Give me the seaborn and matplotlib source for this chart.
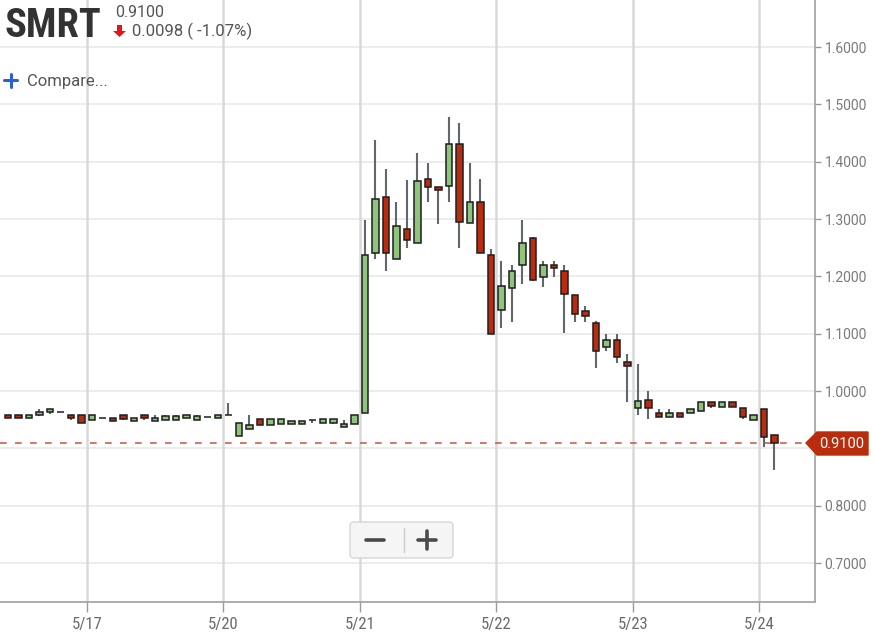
import numpy as np
import pandas as pd
import seaborn as sns
import matplotlib
matplotlib.use("Agg")
import matplotlib.pyplot as plt
from matplotlib.patches import Polygon, FancyBboxPatch
from matplotlib.lines import Line2D
from matplotlib import font_manager

# ---------------- data ----------------
ticker = "SMRT"
last_price = 0.9100
change_text = "0.0098 ( -1.07%)"

day_labels = ["5/16", "5/17", "5/20", "5/21", "5/22", "5/23", "5/24"]
bars_per_day = [8, 13, 13, 13, 13, 12, 2]

opens = [0.959, 0.959, 0.953, 0.958, 0.963, 0.963, 0.959, 0.959, 0.950, 0.953,
         0.953, 0.959, 0.947, 0.959, 0.947, 0.950, 0.950, 0.953, 0.950, 0.955,
         0.953, 0.959, 0.921, 0.934, 0.951, 0.940, 0.942, 0.942, 0.942, 0.949,
         0.944, 0.944, 0.937, 0.942, 0.961, 1.240, 1.338, 1.230, 1.283, 1.259,
         1.369, 1.356, 1.358, 1.430, 1.293, 1.330, 1.238, 1.141, 1.180, 1.219,
         1.267, 1.198, 1.220, 1.210, 1.167, 1.139, 1.118, 1.076, 1.089, 1.050,
         0.971, 0.984, 0.961, 0.955, 0.961, 0.961, 0.966, 0.980, 0.972, 0.980,
         0.971, 0.949, 0.969, 0.924]
highs = [0.959, 0.959, 0.959, 0.969, 0.969, 0.963, 0.959, 0.959, 0.959, 0.953,
         0.953, 0.959, 0.953, 0.959, 0.958, 0.958, 0.958, 0.959, 0.958, 0.955,
         0.959, 0.979, 0.944, 0.958, 0.951, 0.951, 0.951, 0.948, 0.948, 0.949,
         0.951, 0.951, 0.949, 0.959, 1.298, 1.437, 1.387, 1.329, 1.368, 1.416,
         1.398, 1.356, 1.478, 1.468, 1.398, 1.369, 1.248, 1.227, 1.219, 1.298,
         1.269, 1.227, 1.227, 1.219, 1.167, 1.148, 1.122, 1.099, 1.099, 1.065,
         1.047, 1.000, 0.968, 0.968, 0.961, 0.969, 0.980, 0.980, 0.980, 0.980,
         0.971, 0.958, 0.969, 0.924]
lows = [0.953, 0.953, 0.953, 0.957, 0.960, 0.963, 0.950, 0.944, 0.950, 0.953,
        0.947, 0.950, 0.947, 0.950, 0.947, 0.950, 0.950, 0.953, 0.950, 0.955,
        0.953, 0.959, 0.921, 0.934, 0.940, 0.940, 0.942, 0.942, 0.942, 0.945,
        0.944, 0.943, 0.937, 0.942, 0.961, 1.230, 1.210, 1.230, 1.249, 1.259,
        1.330, 1.291, 1.330, 1.249, 1.293, 1.240, 1.099, 1.110, 1.121, 1.187,
        1.192, 1.181, 1.199, 1.101, 1.121, 1.121, 1.040, 1.070, 1.049, 0.981,
        0.958, 0.951, 0.955, 0.955, 0.955, 0.961, 0.966, 0.971, 0.972, 0.972,
        0.951, 0.949, 0.902, 0.862]
closes = [0.953, 0.953, 0.959, 0.964, 0.969, 0.963, 0.953, 0.944, 0.959, 0.953,
          0.947, 0.952, 0.953, 0.953, 0.953, 0.956, 0.956, 0.959, 0.956, 0.955,
          0.959, 0.959, 0.944, 0.940, 0.940, 0.951, 0.951, 0.948, 0.948, 0.949,
          0.951, 0.951, 0.943, 0.959, 1.238, 1.335, 1.240, 1.288, 1.263, 1.367,
          1.355, 1.350, 1.430, 1.295, 1.330, 1.240, 1.099, 1.183, 1.210, 1.259,
          1.193, 1.220, 1.214, 1.169, 1.134, 1.130, 1.070, 1.089, 1.060, 1.044,
          0.983, 0.970, 0.955, 0.961, 0.955, 0.969, 0.980, 0.974, 0.980, 0.972,
          0.955, 0.958, 0.920, 0.910]

y_ticks = [0.7, 0.8, 0.9, 1.0, 1.1, 1.2, 1.3, 1.4, 1.5, 1.6]
y_tick_labels = ["0.7000", "0.8000", "", "1.0000", "1.1000", "1.2000",
                 "1.3000", "1.4000", "1.5000", "1.6000"]

# ---------------- frame ----------------
df = pd.DataFrame({"open": opens, "high": highs, "low": lows, "close": closes})
df["idx"] = np.arange(len(df))
df["day"] = np.repeat(day_labels, bars_per_day)
df["up"] = df["close"] >= df["open"]
df["bottom"] = df[["open", "close"]].min(axis=1)
df["height"] = (df["close"] - df["open"]).abs()

starts = np.cumsum([0] + bars_per_day[:-1])
tick_pos = [s - 0.5 for s in starts[1:]]
tick_lab = day_labels[1:]

# ---------------- style ----------------
sns.set_theme(style="white")
plt.rcParams["font.family"] = ["Roboto", "DejaVu Sans"]

available = {f.name for f in font_manager.fontManager.ttflist}
narrow = [f for f in ["Liberation Sans Narrow", "Roboto Condensed",
                      "DejaVu Sans Condensed"] if f in available]
narrow_family = narrow[:1] + ["Roboto"]

W, H = 873, 638
fig = plt.figure(figsize=(W / 100, H / 100), dpi=100)
ax = fig.add_axes([0, 36 / H, 815 / W, 602 / H])

GREEN = "#8fc47c"
RED = "#b92d0e"
EDGE = "#1e1e1e"
WICK = "#62676c"

# grid
for yv in y_ticks:
    ax.axhline(yv, color="#ebebeb", lw=1.3, zorder=0)
for xv in tick_pos:
    ax.axvline(xv, color="#d9d9d9", lw=1.8, zorder=0)

# wicks
ax.vlines(df["idx"], df["low"], df["high"], color=WICK, lw=1.5, zorder=2)
# bodies
ax.bar(df["idx"], df["height"], bottom=df["bottom"], width=0.62,
       color=np.where(df["up"], GREEN, RED), edgecolor=EDGE, linewidth=1.1,
       zorder=3)

# last price line
ax.axhline(last_price, xmax=806 / 815, color="#cf5f49", lw=1.2,
           ls=(0, (4, 5)), zorder=1)

ax.set_xlim(-0.762, 76.86)
ax.set_ylim(0.632, 1.682)

ax.yaxis.tick_right()
ax.set_yticks(y_ticks)
ax.set_yticklabels(y_tick_labels)
ax.set_xticks(tick_pos)
ax.set_xticklabels(tick_lab)
ax.tick_params(axis="y", right=True, length=4, width=1, color="#9a9a9a",
               labelsize=10, labelcolor="#7a7a7a", pad=3)
ax.tick_params(axis="x", bottom=True, length=7, width=1, color="#9a9a9a",
               labelsize=12, labelcolor="#6a6a6a", pad=4)
for lab in ax.get_xticklabels():
    lab.set_family(narrow_family)

for s in ["top", "left"]:
    ax.spines[s].set_visible(False)
for s in ["right", "bottom"]:
    ax.spines[s].set_color("#a0a0a0")
    ax.spines[s].set_linewidth(1.2)
ax.set_xlabel("")
ax.set_ylabel("")


def px(x, y):
    return (x / W, 1 - y / H)


# price tag on axis
tag = Polygon([px(806, 443), px(817, 432), px(868, 432), px(868, 455), px(817, 455)],
              closed=True, transform=fig.transFigure, facecolor=RED,
              edgecolor=RED, zorder=10)
fig.patches.append(tag)
fig.text(*px(842, 444), f"{last_price:.4f}", color="white", fontsize=10.5,
         ha="center", va="center", zorder=11)

# header
title = fig.text(*px(4, 37), ticker, fontsize=30.5, fontweight="bold",
                 color="#333333", family=narrow_family, va="baseline", ha="left")
renderer = fig.canvas.get_renderer()
wpx = title.get_window_extent(renderer).width
if wpx > 97:
    title.set_fontsize(30.5 * 97 / wpx)

fig.text(*px(115, 17), f"{last_price:.4f}", fontsize=11.5, color="#555555",
         va="baseline", ha="left")
arrow = Polygon([px(117, 25), px(122, 25), px(122, 31), px(126, 31), px(119.5, 37),
                 px(113, 31), px(117, 31)], closed=True, transform=fig.transFigure,
                facecolor="#e8121c", edgecolor="none")
fig.patches.append(arrow)
fig.text(*px(132, 36), change_text, fontsize=12, color="#555555",
         va="baseline", ha="left")
fig.lines.append(Line2D([4 / W, 17 / W], [1 - 80 / H, 1 - 80 / H], lw=2.2,
                        color="#2a62d0", transform=fig.transFigure))
fig.lines.append(Line2D([10.5 / W, 10.5 / W], [1 - 73.5 / H, 1 - 86.5 / H], lw=2.2,
                        color="#2a62d0", transform=fig.transFigure))
fig.text(*px(27, 86), "Compare...", fontsize=12, color="#555555",
         va="baseline", ha="left")

# zoom control
box = FancyBboxPatch(px(350, 558), 103 / W, 36 / H,
                     boxstyle="round,pad=0,rounding_size=0.005",
                     transform=fig.transFigure, facecolor="#f5f5f5",
                     edgecolor="#d6d6d6", lw=1.0, zorder=5)
fig.patches.append(box)
fig.lines.append(Line2D([366 / W, 384 / W], [1 - 540 / H] * 2, lw=2.6,
                        color="#4a4a4a", transform=fig.transFigure, zorder=6))
fig.lines.append(Line2D([418 / W, 436 / W], [1 - 540 / H] * 2, lw=2.6,
                        color="#4a4a4a", transform=fig.transFigure, zorder=6))
fig.lines.append(Line2D([427 / W, 427 / W], [1 - 531 / H, 1 - 549 / H], lw=2.6,
                        color="#4a4a4a", transform=fig.transFigure, zorder=6))
fig.lines.append(Line2D([404 / W, 404 / W], [1 - 528 / H, 1 - 552 / H], lw=1.0,
                        color="#cccccc", transform=fig.transFigure, zorder=6))

fig.savefig("out.png", dpi=100)
